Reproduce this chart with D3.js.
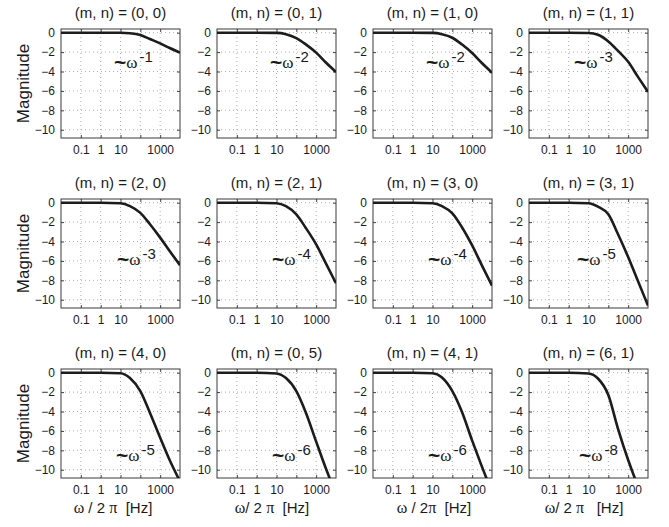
<!DOCTYPE html>
<html>
<head>
<meta charset="utf-8">
<script src="https://cdn.jsdelivr.net/npm/d3@7"></script>
<style>
  html, body { margin: 0; padding: 0; background: #fff; }
  svg { display: block; }
  text { font-family: "Liberation Sans", Arial, Helvetica, sans-serif; fill: #1a1a1a; }
</style>
</head>
<body>
<svg id="chart" width="669" height="527"></svg>
<script>
// ---------- data ----------
const frequencies = [0.01, 0.1, 1, 10, 30, 100, 300, 1000, 3000, 10000];

const titles = [
  "(m, n) = (0, 0)", "(m, n) = (0, 1)", "(m, n) = (1, 0)", "(m, n) = (1, 1)",
  "(m, n) = (2, 0)", "(m, n) = (2, 1)", "(m, n) = (3, 0)", "(m, n) = (3, 1)",
  "(m, n) = (4, 0)", "(m, n) = (0, 5)", "(m, n) = (4, 1)", "(m, n) = (6, 1)"
];
const exponents = ["-1", "-2", "-2", "-3", "-3", "-4", "-4", "-5", "-5", "-6", "-6", "-8"];

const mag_0_0 = [0, 0, 0, -0.01, -0.06, -0.24, -0.65, -1.1, -1.58, -2.05];
const mag_0_1 = [0, 0, 0, -0.02, -0.15, -0.55, -1.2, -2.05, -3.05, -4.05];
const mag_1_0 = [0, 0, 0, -0.02, -0.15, -0.52, -1.2, -2.1, -3.1, -4.12];
const mag_1_1 = [0, 0, 0, -0.03, -0.22, -0.9, -1.85, -3.0, -4.5, -6.1];
const mag_2_0 = [0, 0, 0, -0.05, -0.35, -1.05, -2.2, -3.6, -4.98, -6.45];
const mag_2_1 = [0, 0, 0, -0.05, -0.35, -1.2, -2.6, -4.3, -6.2, -8.3];
const mag_3_0 = [0, 0, 0, -0.05, -0.35, -1.1, -2.5, -4.4, -6.4, -8.55];
const mag_3_1 = [0, 0, 0, -0.05, -0.4, -1.2, -3.2, -5.6, -8.0, -10.6];
const mag_4_0 = [0, 0, 0, -0.05, -0.55, -1.9, -4.1, -6.7, -9.0, -11.2];
const mag_0_5 = [0, 0, 0, -0.08, -0.55, -1.9, -4.1, -7.1, -9.8, -12.5];
const mag_4_1 = [0, 0, 0, -0.06, -0.5, -1.9, -4.0, -7.0, -9.6, -12.3];
const mag_6_1 = [0, 0, 0, -0.08, -0.6, -2.3, -5.7, -9.0, -11.6, -14.0];

const seriesList = [mag_0_0, mag_0_1, mag_1_0, mag_1_1,
                    mag_2_0, mag_2_1, mag_3_0, mag_3_1,
                    mag_4_0, mag_0_5, mag_4_1, mag_6_1];

const xTickValues = [0.1, 1, 10, 100, 1000];
const xTickLabels = ["0.1", "1", "10", "", "1000"];
const yTickValues = [0, -2, -4, -6, -8, -10];
const yLabel = "Magnitude";
// x labels split into [greek omega, middle, greek pi, tail]
const xLabelParts = [
  ["ω", " / 2 ", "π", "  [Hz]"],
  ["ω", "/ 2 ", "π", "  [Hz]"],
  ["ω", " / 2", "π", "  [Hz]"],
  ["ω", "/ 2 ", "π", "   [Hz]"]
];

// ---------- layout ----------
const W = 119, H = 109;
const colLeft = [61, 217, 373, 529];
const rowTop = [29, 199, 369];
const annotOffsetX = [53, 53, 53, 45, 56, 55, 55, 48, 55, 55, 55, 50];
const annotBaseline = [39, 66, 92];
const xLabelCenter = [113, 272, 434, 584];
const serif = "Liberation Serif, Times New Roman, serif";

const svg = d3.select("#chart");
const x = d3.scaleLog().domain([0.01, 10000]).range([0, W]);
const y = d3.scaleLinear().domain([-10.85, 0.38]).range([H, 0]);

const defs = svg.append("defs");
defs.append("clipPath").attr("id", "plotclip")
  .append("rect").attr("x", 0).attr("y", 0).attr("width", W).attr("height", H);

const fmtY = d => d === 0 ? "0" : "\u2212" + Math.abs(d);

seriesList.forEach((vals, i) => {
  const r = Math.floor(i / 4), c = i % 4;
  const g = svg.append("g").attr("transform", `translate(${colLeft[c]},${rowTop[r]})`);

  // grid
  g.append("g").selectAll("line").data(xTickValues).join("line")
    .attr("x1", d => x(d)).attr("x2", d => x(d)).attr("y1", 0).attr("y2", H)
    .attr("stroke", "#9a9a9a").attr("stroke-width", 0.8).attr("stroke-dasharray", "1,3");
  g.append("g").selectAll("line").data(yTickValues).join("line")
    .attr("x1", 0).attr("x2", W).attr("y1", d => y(d)).attr("y2", d => y(d))
    .attr("stroke", "#9a9a9a").attr("stroke-width", 0.8).attr("stroke-dasharray", "1,3");

  // axes (inward ticks)
  const axB = d3.axisBottom(x).tickValues(xTickValues).tickSize(-3).tickPadding(7)
    .tickFormat((d, k) => xTickLabels[k]);
  const axT = d3.axisTop(x).tickValues(xTickValues).tickSize(-3).tickFormat("");
  const axL = d3.axisLeft(y).tickValues(yTickValues).tickSize(-3).tickPadding(6).tickFormat(fmtY);
  const axR = d3.axisRight(y).tickValues(yTickValues).tickSize(-3).tickFormat("");

  const gb = g.append("g").attr("transform", `translate(0,${H})`).call(axB);
  const gt = g.append("g").call(axT);
  const gl = g.append("g").call(axL);
  const gr = g.append("g").attr("transform", `translate(${W},0)`).call(axR);
  [gb, gt, gl, gr].forEach(a => {
    a.select(".domain").remove();
    a.selectAll(".tick line").attr("stroke", "#444");
    a.selectAll("text").attr("font-size", 12).attr("fill", "#1a1a1a")
      .attr("font-family", "Liberation Sans, Arial, sans-serif");
  });
  gb.selectAll("text").attr("dy", "0.71em");

  // frame
  g.append("rect").attr("x", 0).attr("y", 0).attr("width", W).attr("height", H)
    .attr("fill", "none").attr("stroke", "#3a3a3a").attr("stroke-width", 1);

  // curve
  const pts = frequencies.map((f, k) => [f, vals[k]]);
  const line = d3.line().x(d => x(d[0])).y(d => y(d[1])).curve(d3.curveMonotoneX);
  g.append("path").attr("d", line(pts)).attr("clip-path", "url(#plotclip)")
    .attr("fill", "none").attr("stroke", "#1c1c1c").attr("stroke-width", 2.6)
    .attr("stroke-linejoin", "round");

  // title
  g.append("text").attr("x", W / 2).attr("y", -11).attr("text-anchor", "middle")
    .attr("font-size", 15).text(titles[i]);

  // annotation ~ω^p
  const t = g.append("text").attr("x", annotOffsetX[i]).attr("y", annotBaseline[r]);
  t.append("tspan").attr("font-size", 21).attr("font-weight", "bold").attr("dy", 1).text("~");
  t.append("tspan").attr("font-size", 17).attr("font-family", serif).attr("dy", -1).text("ω");
  t.append("tspan").attr("font-size", 15).attr("dx", 2).attr("dy", -6).text(exponents[i]);

  // y label
  if (c === 0) {
    svg.append("text")
      .attr("transform", `translate(29,${rowTop[r] + H / 2}) rotate(-90)`)
      .attr("text-anchor", "middle").attr("font-size", 17).text(yLabel);
  }
  // x label
  if (r === 2) {
    const p = xLabelParts[c];
    const xt = svg.append("text").attr("x", xLabelCenter[c]).attr("y", 513)
      .attr("text-anchor", "middle").attr("font-size", 15).style("white-space", "pre");
    xt.append("tspan").attr("font-family", serif).attr("font-size", 16).text(p[0]);
    xt.append("tspan").text(p[1]);
    xt.append("tspan").attr("font-family", serif).attr("font-size", 16).text(p[2]);
    xt.append("tspan").text(p[3]);
  }
});
</script>
</body>
</html>
